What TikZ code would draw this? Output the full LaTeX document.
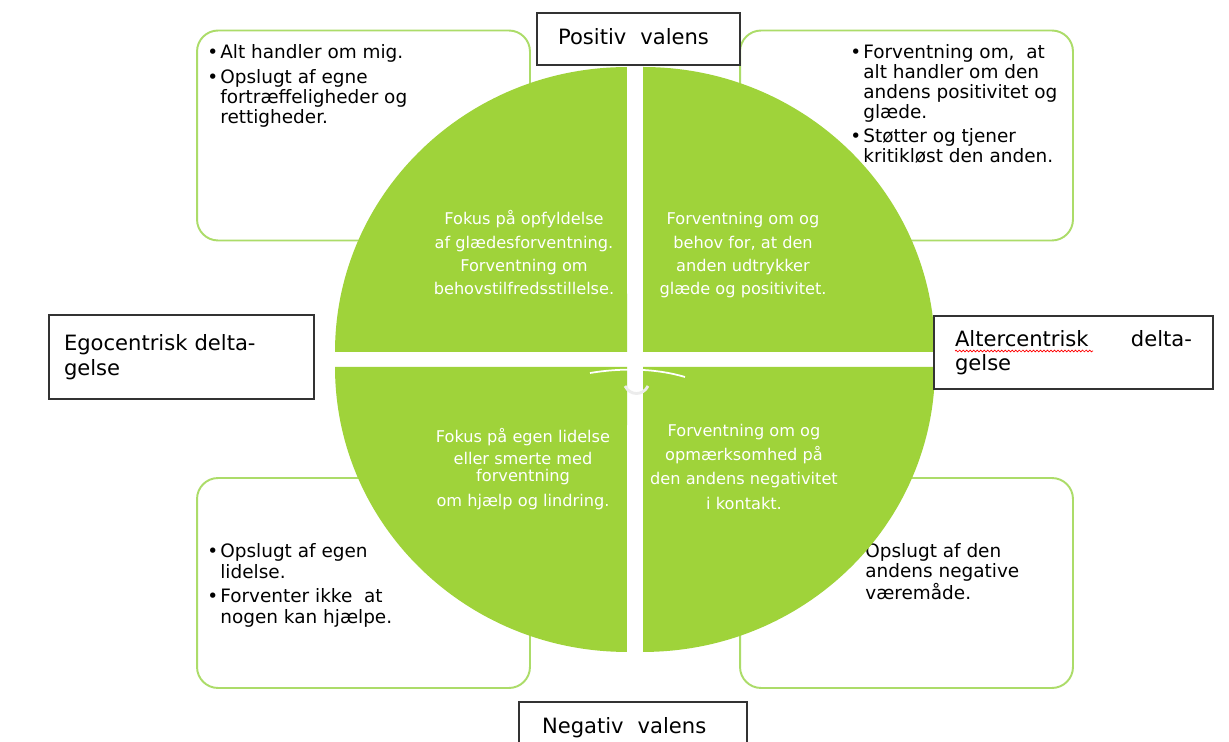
\documentclass[tikz,border=0pt]{standalone}
\usepackage{fontspec}
\setmainfont{DejaVu Sans}
\usetikzlibrary{decorations.pathmorphing}

\definecolor{leaf}{RGB}{159,211,58}
\definecolor{leafline}{RGB}{172,220,105}
\definecolor{frame}{RGB}{51,51,51}

\newcommand{\bul}{\llap{\textbullet\hspace{1.2pt}}}

\begin{document}
\begin{tikzpicture}[x=0.02cm, y=-0.02cm,
  greenbox/.style={draw=leafline, line width=1.1pt, fill=white, rounded corners=0.42cm,
    inner sep=0pt, minimum width=6.66cm, minimum height=4.2cm},
  boxtext/.style={anchor=base west, align=left, inner sep=0pt, text=black,
    font=\fontsize{10.5}{11.4}\selectfont},
  quadtext/.style={anchor=base, align=center, inner sep=0pt, text=white,
    font=\fontsize{9.2}{13.3}\selectfont},
  labelbox/.style={draw=frame, line width=0.9pt, fill=white, align=left, inner ysep=0pt,
    font=\fontsize{12}{14}\selectfont}]
  \clip (0,0) rectangle (1229,742);
  \fill[white] (0,0) rectangle (1229,742);

  % rounded boxes behind the circle
  \node[greenbox] (tl) at (363.5,135.5) {};
  \node[greenbox] (tr) at (906.5,135.5) {};
  \node[greenbox] (bl) at (363.5,583) {};
  \node[greenbox] (br) at (906.5,583) {};

  % base of each text block = its last line
  \node[boxtext] (tltext) at (220,124) {\bul Alt handler om mig.\\[2.8pt]
    \bul Opslugt af egne\\fortræffeligheder og\\rettigheder.};
  \node[boxtext] (trtext) at (863,163) {\bul Forventning om,\ \ at\\alt handler om den\\
    andens positivitet og\\glæde.\\[2.4pt]
    \bul Støtter og tjener\\kritikløst den anden.};
  \node[boxtext] (bltext) at (220,623) {\bul Opslugt af egen\\lidelse.\\[2.8pt]
    \bul Forventer ikke\ \ at\\nogen kan hjælpe.};
  \node[boxtext] (brtext) at (865,599) {Opslugt af den\\andens negative\\væremåde.};

  % four quarters of the circle
  \def\rx{5.84cm}
  \def\ry{5.7cm}
  \fill[leaf] (627,352) -- (335,352) arc[start angle=180, end angle=90, x radius=\rx, y radius=\ry] -- cycle;
  \fill[leaf] (643,352) -- (643,67) arc[start angle=90, end angle=0, x radius=\rx, y radius=\ry] -- cycle;
  \fill[leaf] (627,367) -- (335,367) arc[start angle=180, end angle=270, x radius=\rx, y radius=\ry] -- cycle;
  \fill[leaf] (643,367) -- (935,367) arc[start angle=0, end angle=-90, x radius=\rx, y radius=\ry] -- cycle;

  \draw[white, line width=1pt] (590,373) .. controls (620,368) and (655,368) .. (685,377);
  \draw[white!85!gray, line width=1.6pt] (625,386) .. controls (630,396) and (643,396) .. (648,386);

  \node[quadtext] (ul) at (524,295) {Fokus på opfyldelse\\af glædesforventning.\\
    Forventning om\\behovstilfredsstillelse.};
  \node[quadtext] (ur) at (743,295) {Forventning om og\\behov for, at den\\
    anden udtrykker\\glæde og positivitet.};
  \node[quadtext] (ll) at (523,506) {Fokus på egen lidelse\\[-0.7pt]eller smerte med\\[-3.6pt]
    forventning\\[0.4pt]om hjælp og lindring.};
  \node[quadtext] (lr) at (744,509) {Forventning om og\\[0.4pt]opmærksomhed på\\[0.4pt]
    den andens negativitet\\[0.4pt]i kontakt.};

  % axis labels
  \node[labelbox, inner xsep=0.42cm, text width=3.22cm, minimum height=1.04cm, text depth=0.25em]
    (pos) at (638.5,39) {Positiv\ \ valens};
  \node[labelbox, inner xsep=0.46cm, text width=3.64cm, minimum height=1.04cm]
    (neg) at (633,728) {Negativ\ \ valens};
  \node[labelbox, inner xsep=0.3cm, text width=4.7cm, minimum height=1.68cm]
    (ego) at (181.5,357) {Egocentrisk delta-\\gelse};
  \node[labelbox, inner xsep=0.42cm, text width=4.74cm, minimum height=1.46cm]
    (alt) at (1073.5,352.5) {Altercentrisk\hfill delta-\\gelse};
  \draw[red, line width=0.4pt, decorate, decoration={snake, amplitude=0.5pt, segment length=2pt}]
    (955,351) -- (1093,351);
\end{tikzpicture}
\end{document}
